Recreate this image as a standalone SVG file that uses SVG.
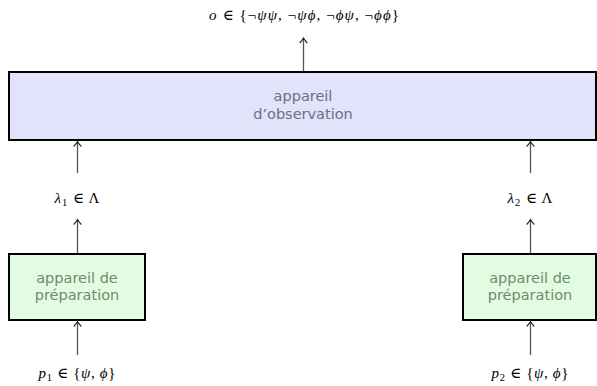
<svg xmlns="http://www.w3.org/2000/svg" width="597" height="386" viewBox="0 0 597 386">
  <style>
    .box { stroke: #000; stroke-width: 2; }
    .obs { fill: #e2e2fa; }
    .prep { fill: #e2fce2; }
    .lbl { font-family: "DejaVu Sans", "Liberation Sans", sans-serif; font-size: 14.5px; text-anchor: middle; }
    .obs-t { fill: #6e6e84; }
    .prep-t { fill: #6f8a6f; }
    .math { font-family: "Liberation Serif", "DejaVu Serif", serif; font-size: 15px; text-anchor: middle; fill: #000; }
    .it { font-style: italic; }
    .sub { font-size: 10.5px; }
    .conn line { stroke: #555; stroke-width: 1.3; marker-end: url(#to); }
  </style>
  <defs>
    <marker id="to" viewBox="-6 -5 8 10" markerWidth="8" markerHeight="10" refX="0" refY="0" orient="auto" markerUnits="userSpaceOnUse">
      <path d="M -4.5,-3.8 Q -1.5,-1 0.5,0 Q -1.5,1 -4.5,3.8" fill="none" stroke="#222" stroke-width="1.1"/>
    </marker>
  </defs>

  <rect width="597" height="386" fill="#fff"/>

  <!-- output value -->
  <g id="output">
    <text class="math" x="304" y="20" textLength="190" lengthAdjust="spacing"><tspan class="it">o</tspan> ∈ {¬<tspan class="it">ψψ</tspan>, ¬<tspan class="it">ψϕ</tspan>, ¬<tspan class="it">ϕψ</tspan>, ¬<tspan class="it">ϕϕ</tspan>}</text>
  </g>

  <!-- observation apparatus -->
  <g id="observation">
    <rect class="box obs" x="9" y="72" width="587" height="68"/>
    <text class="lbl obs-t" x="303" y="101">appareil</text>
    <text class="lbl obs-t" x="303" y="119">d’observation</text>
  </g>

  <!-- hidden variables -->
  <g id="lambda1">
    <text class="math" x="77" y="203" textLength="45" lengthAdjust="spacing"><tspan class="it">λ</tspan><tspan class="sub" dy="3">1</tspan><tspan dy="-3"> ∈ Λ</tspan></text>
  </g>
  <g id="lambda2">
    <text class="math" x="530" y="203" textLength="45" lengthAdjust="spacing"><tspan class="it">λ</tspan><tspan class="sub" dy="3">2</tspan><tspan dy="-3"> ∈ Λ</tspan></text>
  </g>

  <!-- preparation apparatus -->
  <g id="prep1">
    <rect class="box prep" x="9" y="254" width="136" height="66"/>
    <text class="lbl prep-t" x="77" y="283">appareil de</text>
    <text class="lbl prep-t" x="77" y="300">préparation</text>
  </g>
  <g id="prep2">
    <rect class="box prep" x="463" y="254" width="133" height="66"/>
    <text class="lbl prep-t" x="530" y="283">appareil de</text>
    <text class="lbl prep-t" x="530" y="300">préparation</text>
  </g>

  <!-- prepared states -->
  <g id="p1">
    <text class="math" x="77" y="378" textLength="77" lengthAdjust="spacing"><tspan class="it">p</tspan><tspan class="sub" dy="3">1</tspan><tspan dy="-3"> ∈ {</tspan><tspan class="it">ψ</tspan>, <tspan class="it">ϕ</tspan>}</text>
  </g>
  <g id="p2">
    <text class="math" x="530" y="378" textLength="77" lengthAdjust="spacing"><tspan class="it">p</tspan><tspan class="sub" dy="3">2</tspan><tspan dy="-3"> ∈ {</tspan><tspan class="it">ψ</tspan>, <tspan class="it">ϕ</tspan>}</text>
  </g>

  <!-- connectors -->
  <g class="conn" id="connectors">
    <line x1="303.5" y1="71" x2="303.5" y2="38.5"/>
    <line x1="77.5" y1="173" x2="77.5" y2="142"/>
    <line x1="530.5" y1="173" x2="530.5" y2="142"/>
    <line x1="77.5" y1="253" x2="77.5" y2="220"/>
    <line x1="530.5" y1="253" x2="530.5" y2="220"/>
    <line x1="77.5" y1="355" x2="77.5" y2="322"/>
    <line x1="530.5" y1="355" x2="530.5" y2="322"/>
  </g>
</svg>
